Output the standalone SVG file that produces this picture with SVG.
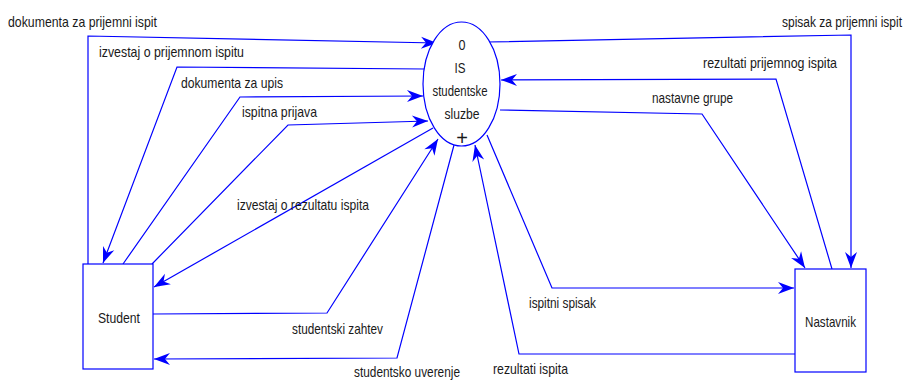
<svg xmlns="http://www.w3.org/2000/svg" width="907" height="380" viewBox="0 0 907 380">
<style>
.bg{fill:#ffffff}
.node{fill:#ffffff;stroke:#0000ff;stroke-width:1.2}
.flow{fill:none;stroke:#0000ff;stroke-width:1.2;marker-end:url(#arr)}
text{font-family:"Liberation Sans",Arial,sans-serif;font-size:15px;fill:#1a1a1a}
.c{text-anchor:middle}
</style>
<defs>
<marker id="arr" markerUnits="userSpaceOnUse" markerWidth="20" markerHeight="20" viewBox="-18 -9 20 18" refX="0" refY="0" orient="auto">
<path d="M0,0 L-16,-6 L-11,0 L-16,6 Z" fill="#0000ff"/>
</marker>
</defs>
<rect class="bg" x="0" y="0" width="907" height="380"/>
<g id="connectors">
<polyline class="flow" points="88,264 88,36 437,43"/>
<polyline class="flow" points="425,69 177,67 103,263"/>
<polyline class="flow" points="123,264 240,97 423,96"/>
<polyline class="flow" points="152,264 288,125 428,121"/>
<polyline class="flow" points="433,128 154,287"/>
<polyline class="flow" points="153,314 327,313 438,139"/>
<polyline class="flow" points="454,145 397,358 154,359"/>
<polyline class="flow" points="487,135 552,288 794,288"/>
<polyline class="flow" points="795,354 519,354 475,145"/>
<polyline class="flow" points="500,110 702,114 805,268"/>
<polyline class="flow" points="832,269 776,79 501,80"/>
<polyline class="flow" points="487,42 851,35 851,268"/>
<text x="8" y="27" textLength="149" lengthAdjust="spacingAndGlyphs">dokumenta za prijemni ispit</text>
<text x="99" y="57" textLength="145" lengthAdjust="spacingAndGlyphs">izvestaj o prijemnom ispitu</text>
<text x="181" y="88" textLength="102" lengthAdjust="spacingAndGlyphs">dokumenta za upis</text>
<text x="242" y="117" textLength="75" lengthAdjust="spacingAndGlyphs">ispitna prijava</text>
<text x="237" y="210" textLength="132" lengthAdjust="spacingAndGlyphs">izvestaj o rezultatu ispita</text>
<text x="292" y="334" textLength="91" lengthAdjust="spacingAndGlyphs">studentski zahtev</text>
<text x="354" y="377" textLength="106" lengthAdjust="spacingAndGlyphs">studentsko uverenje</text>
<text transform="translate(782,27) scale(0.8,1)" x="0" y="0">spisak za prijemni ispit</text>
<text x="703" y="68" textLength="134" lengthAdjust="spacingAndGlyphs">rezultati prijemnog ispita</text>
<text x="652" y="103" textLength="81" lengthAdjust="spacingAndGlyphs">nastavne grupe</text>
<text x="529" y="308" textLength="67" lengthAdjust="spacingAndGlyphs">ispitni spisak</text>
<text x="493" y="374" textLength="75" lengthAdjust="spacingAndGlyphs">rezultati ispita</text>
</g>
<g id="process-0">
<ellipse class="node" cx="461.5" cy="84" rx="38.5" ry="62"/>
<text class="c" x="462" y="50" textLength="7" lengthAdjust="spacingAndGlyphs">0</text>
<text class="c" x="460" y="73" textLength="11" lengthAdjust="spacingAndGlyphs">IS</text>
<text class="c" x="460" y="96" textLength="55" lengthAdjust="spacingAndGlyphs">studentske</text>
<text class="c" x="462" y="119" textLength="35" lengthAdjust="spacingAndGlyphs">sluzbe</text>
<text class="c" x="462" y="145" style="font-size:20px">+</text>
</g>
<g id="student">
<rect class="node" x="83" y="264" width="70" height="105"/>
<text x="98" y="323" textLength="42" lengthAdjust="spacingAndGlyphs">Student</text>
</g>
<g id="nastavnik">
<rect class="node" x="795" y="269" width="71" height="103"/>
<text x="805" y="327" textLength="51" lengthAdjust="spacingAndGlyphs">Nastavnik</text>
</g>
</svg>
